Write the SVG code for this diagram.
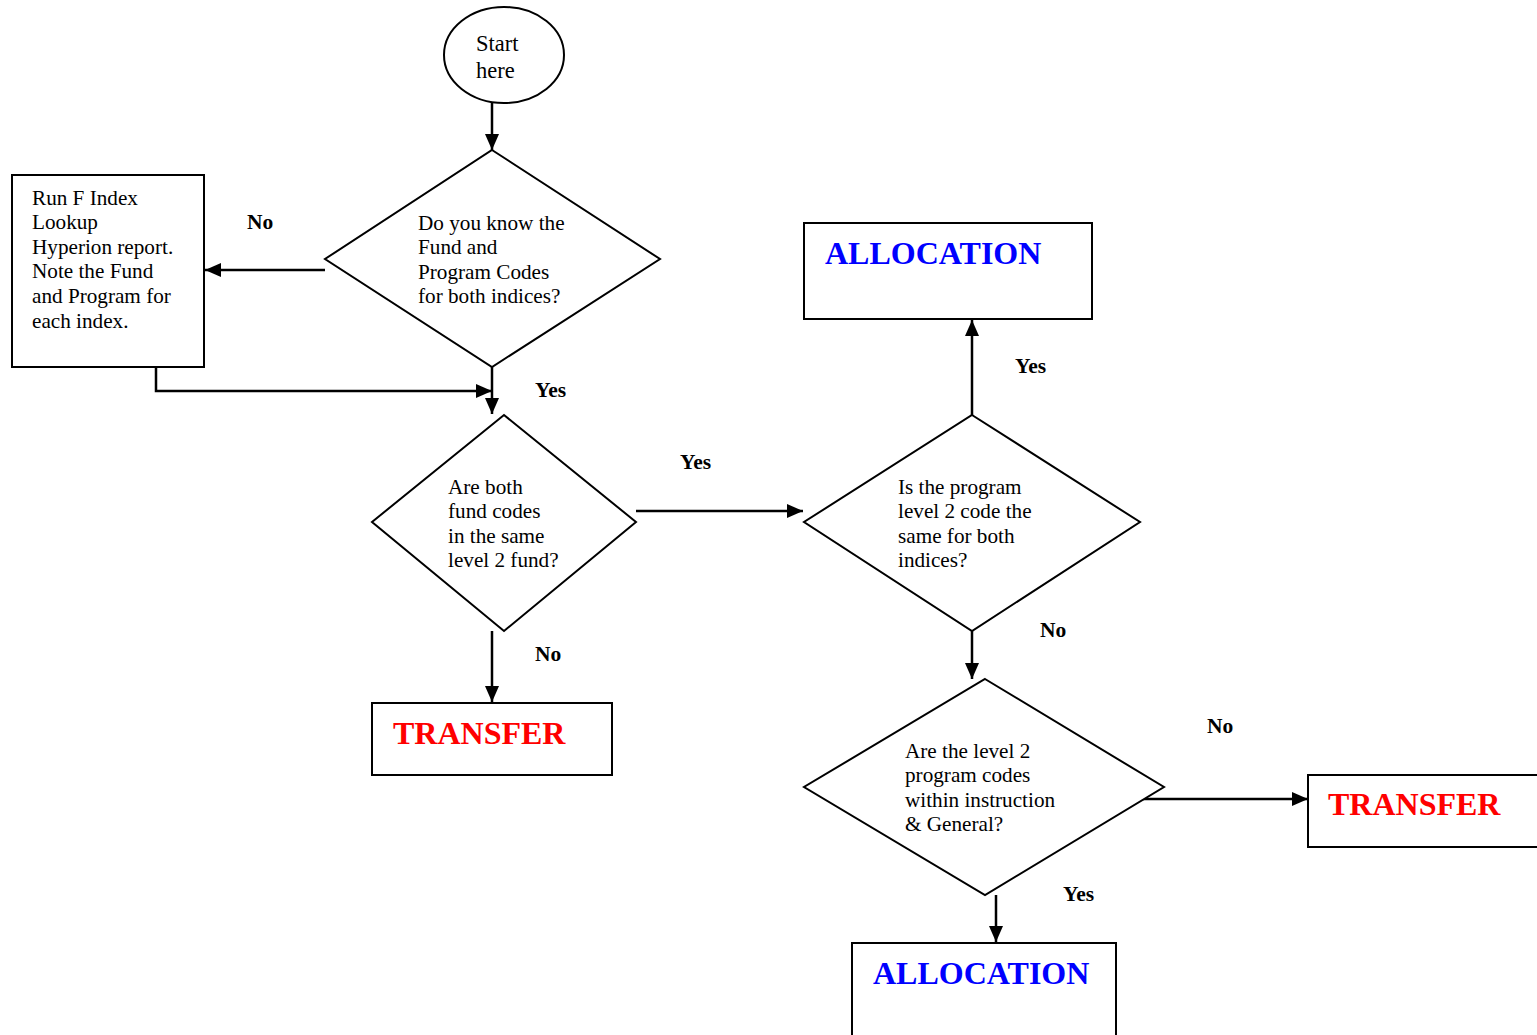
<svg xmlns="http://www.w3.org/2000/svg" width="1537" height="1035" viewBox="0 0 1537 1035">
<style>
.shape{fill:#fff;stroke:#000;stroke-width:2}
.line{fill:none;stroke:#000;stroke-width:2.5}
.t{font-family:"Liberation Serif","Times New Roman",serif;font-size:21.2px;fill:#000}
.st{font-size:22.5px}
.lbl{font-family:"Liberation Serif","Times New Roman",serif;font-size:21.5px;font-weight:bold;fill:#000}
.big{font-family:"Liberation Serif","Times New Roman",serif;font-size:32px;font-weight:bold}
.red{fill:#ff0000}
.blue{fill:#0000ff}
</style>
<defs>
<marker id="ah" viewBox="0 0 16 14" refX="16" refY="7" markerWidth="16" markerHeight="14" markerUnits="userSpaceOnUse" orient="auto">
<path d="M0,0 L16,7 L0,14 Z" fill="#000"/>
</marker>
</defs>
<rect width="1537" height="1035" fill="#fff"/>
<g id="connectors">
<line class="line" x1="492" y1="103" x2="492" y2="150" marker-end="url(#ah)"/>
<line class="line" x1="325" y1="270" x2="205" y2="270" marker-end="url(#ah)"/>
<polyline class="line" points="156,367 156,391 492,391" marker-end="url(#ah)"/>
<line class="line" x1="492" y1="367" x2="492" y2="414" marker-end="url(#ah)"/>
<line class="line" x1="636" y1="511" x2="803" y2="511" marker-end="url(#ah)"/>
<line class="line" x1="492" y1="631" x2="492" y2="702" marker-end="url(#ah)"/>
<line class="line" x1="972" y1="415" x2="972" y2="320" marker-end="url(#ah)"/>
<line class="line" x1="972" y1="631" x2="972" y2="679" marker-end="url(#ah)"/>
<line class="line" x1="1140" y1="799" x2="1308" y2="799" marker-end="url(#ah)"/>
<line class="line" x1="996" y1="895" x2="996" y2="942" marker-end="url(#ah)"/>
<text class="lbl" x="247" y="229">No</text>
<text class="lbl" x="535" y="397">Yes</text>
<text class="lbl" x="680" y="469">Yes</text>
<text class="lbl" x="535" y="661">No</text>
<text class="lbl" x="1015" y="373">Yes</text>
<text class="lbl" x="1040" y="637">No</text>
<text class="lbl" x="1207" y="733">No</text>
<text class="lbl" x="1063" y="901">Yes</text>
</g>
<g id="start">
<ellipse class="shape" cx="504" cy="55" rx="60" ry="48"/>
<text class="t st" x="476" y="51">Start</text>
<text class="t st" x="476" y="78">here</text>
</g>
<g id="q1">
<polygon class="shape" points="492,150 660,259 492,367 325,259"/>
<text class="t" x="418" y="230">Do you know the</text>
<text class="t" x="418" y="254">Fund and</text>
<text class="t" x="418" y="279">Program Codes</text>
<text class="t" x="418" y="303">for both indices?</text>
</g>
<g id="lookup">
<rect class="shape" x="12" y="175" width="192" height="192"/>
<text class="t" x="32" y="205">Run F Index</text>
<text class="t" x="32" y="229">Lookup</text>
<text class="t" x="32" y="254">Hyperion report.</text>
<text class="t" x="32" y="278">Note the Fund</text>
<text class="t" x="32" y="303">and Program for</text>
<text class="t" x="32" y="328">each index.</text>
</g>
<g id="q2">
<polygon class="shape" points="504,415 636,522 504,631 372,522"/>
<text class="t" x="448" y="494">Are both</text>
<text class="t" x="448" y="518">fund codes</text>
<text class="t" x="448" y="543">in the same</text>
<text class="t" x="448" y="567">level 2 fund?</text>
</g>
<g id="transfer1">
<rect class="shape" x="372" y="703" width="240" height="72"/>
<text class="big red" x="393" y="744">TRANSFER</text>
</g>
<g id="q3">
<polygon class="shape" points="972,415 1140,522 972,631 804,522"/>
<text class="t" x="898" y="494">Is the program</text>
<text class="t" x="898" y="518">level 2 code the</text>
<text class="t" x="898" y="543">same for both</text>
<text class="t" x="898" y="567">indices?</text>
</g>
<g id="allocation1">
<rect class="shape" x="804" y="223" width="288" height="96"/>
<text class="big blue" x="825" y="264">ALLOCATION</text>
</g>
<g id="q4">
<polygon class="shape" points="985,679 1164,787 985,895 804,787"/>
<text class="t" x="905" y="758">Are the level 2</text>
<text class="t" x="905" y="782">program codes</text>
<text class="t" x="905" y="807">within instruction</text>
<text class="t" x="905" y="831">&amp; General?</text>
</g>
<g id="transfer2">
<rect class="shape" x="1308" y="775" width="240" height="72"/>
<text class="big red" x="1328" y="815">TRANSFER</text>
</g>
<g id="allocation2">
<rect class="shape" x="852" y="943" width="264" height="100"/>
<text class="big blue" x="873" y="984">ALLOCATION</text>
</g>
</svg>
